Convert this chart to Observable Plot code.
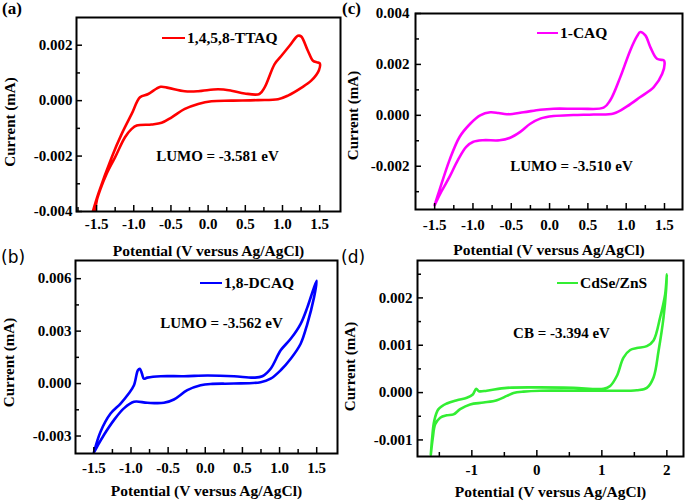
<!DOCTYPE html>
<html><head><meta charset="utf-8">
<script src="https://cdn.jsdelivr.net/npm/d3@7"></script>
<script src="https://cdn.jsdelivr.net/npm/@observablehq/plot@0.6"></script>
<style>
body{margin:0;background:#fff;}
#root{position:relative;width:685px;height:503px;overflow:hidden;font-family:"Liberation Serif","Times New Roman",serif;background:#fff;}
.panel{position:absolute;}
.lbl{position:absolute;font-size:17px;line-height:19px;white-space:nowrap;}
.leg{position:absolute;display:flex;align-items:center;font-weight:bold;font-size:15.5px;line-height:16px;height:16px;white-space:nowrap;}
.leg .sw{display:inline-block;height:2.6px;margin-right:2px;}
</style></head><body><div id="root"></div>
<script>
// ---------- data (potential in V, current in mA) ----------
const aV = [-1.55,-1.475,-1.296,-1.162,-1.028,-0.916,-0.805,-0.64,-0.536,-0.313,-0.134,0.134,0.313,0.49,0.69,0.76,0.894,0.98,1.095,1.207,1.25,1.341,1.41,1.466,1.5,
            1.49,1.386,1.252,1.073,0.94,0.67,0.31,0.045,-0.134,-0.313,-0.49,-0.626,-0.76,-0.96,-1.028,-1.118,-1.25,-1.363,-1.453,-1.497,-1.52];
const aI = [-0.004,-0.00335,-0.00204,-0.0012,-0.00048,0.00012,0.00024,0.0005,0.00046,0.00034,0.00034,0.00041,0.00036,0.00026,0.00024,0.00048,0.00132,0.0016,0.00198,0.00234,0.00232,0.0018,0.00144,0.00138,0.00135,
            0.0011,0.00072,0.00046,0.00018,0.00005,0.00002,0,-0.00002,-0.00012,-0.0003,-0.0006,-0.0008,-0.00086,-0.0009,-0.00102,-0.00132,-0.00204,-0.00263,-0.00323,-0.0036,-0.004];

const cV = [-1.5,-1.437,-1.306,-1.175,-1.036,-0.906,-0.775,-0.666,-0.557,-0.34,-0.122,0.052,0.4,0.705,0.792,0.923,1.053,1.14,1.184,1.25,1.315,1.402,1.489,1.5,
            1.47,1.36,1.184,1.01,0.836,0.575,0.31,0.052,-0.122,-0.252,-0.383,-0.514,-0.653,-0.87,-1.001,-1.088,-1.197,-1.306,-1.415,-1.48,-1.5];
const cI = [-0.00353,-0.00294,-0.00176,-0.00085,-0.00033,0,0.00012,0.00009,0.00004,0.00012,0.00022,0.00026,0.00026,0.0003,0.00059,0.0015,0.00255,0.0031,0.00327,0.00314,0.00268,0.00222,0.00216,0.0021,
            0.00163,0.00111,0.00072,0.00035,0.00007,0.00003,0.00001,-0.00003,-0.00013,-0.00033,-0.00065,-0.00088,-0.00098,-0.00098,-0.00105,-0.00124,-0.00176,-0.00242,-0.00301,-0.0034,-0.00353];

const bV = [-1.5,-1.41,-1.275,-1.14,-1.03,-0.96,-0.907,-0.88,-0.853,-0.826,-0.78,-0.6,-0.287,0.027,0.386,0.656,0.768,0.88,1.015,1.15,1.284,1.374,1.464,1.5,
            1.464,1.374,1.284,1.15,1.015,0.88,0.745,0.386,0.072,-0.063,-0.242,-0.422,-0.557,-0.78,-0.96,-1.096,-1.23,-1.365,-1.455,-1.5];
const bI = [-0.00395,-0.00275,-0.00171,-0.00114,-0.00057,-0.0001,0.00076,0.00085,0.00057,0.00028,0.00034,0.00042,0.00042,0.00046,0.00042,0.00034,0.00042,0.00085,0.0019,0.00256,0.00342,0.00436,0.0055,0.00588,
            0.00493,0.00342,0.00228,0.00142,0.00076,0.00028,0.00008,0,-0.00002,-0.0001,-0.00038,-0.00091,-0.0011,-0.0011,-0.00104,-0.00142,-0.00209,-0.00294,-0.0036,-0.00395];

const dV = [-1.631,-1.61,-1.579,-1.513,-1.385,-1.23,-1.077,-0.985,-0.933,-0.892,-0.77,-0.462,0.05,0.564,1.026,1.128,1.23,1.333,1.436,1.538,1.692,1.795,1.897,1.974,2.0,
            1.99,1.949,1.872,1.795,1.692,1.538,1.077,0.564,0.05,-0.205,-0.359,-0.462,-0.615,-0.82,-1.026,-1.18,-1.282,-1.385,-1.487,-1.564,-1.6,-1.631];
const dI = [-0.00131,-0.00095,-0.0006,-0.00035,-0.00023,-0.00016,-0.00011,-0.00004,0.00008,0.00003,0.00004,0.0001,0.00011,0.0001,0.00008,0.00014,0.00035,0.00074,0.0009,0.00094,0.00098,0.0011,0.00159,0.00208,0.0025,
            0.0022,0.00159,0.00088,0.00032,0.0001,0.00005,0.00004,0.00004,0.00004,0.00002,-0.00001,-0.00007,-0.00016,-0.00021,-0.00025,-0.00035,-0.00046,-0.00048,-0.00053,-0.00067,-0.00095,-0.00131];

// ---------- ticks ----------
const xTicks15 = [-1.5,-1,-0.5,0,0.5,1,1.5];
const xLabels15 = ["-1.5","-1.0","-0.5","0.0","0.5","1.0","1.5"];
const aXMinor = [-1.75,-1.25,-0.75,-0.25,0.25,0.75,1.25];
const cXMinor = [-1.25,-0.75,-0.25,0.25,0.75,1.25];
const bXMinor = [-1.25,-0.75,-0.25,0.25,0.75,1.25];
const dXTicks = [-1,0,1,2];
const dXLabels = ["-1","0","1","2"];
const dXMinor = [-1.5,-0.5,0.5,1.5];

const aYTicks = [-0.004,-0.002,0,0.002];
const aYLabels = ["-0.004","-0.002","0.000","0.002"];
const aYMinor = [-0.003,-0.001,0.001];
const cYTicks = [-0.002,0,0.002,0.004];
const cYLabels = ["-0.002","0.000","0.002","0.004"];
const cYMinor = [-0.003,-0.001,0.001,0.003];
const bYTicks = [-0.003,0,0.003,0.006];
const bYLabels = ["-0.003","0.000","0.003","0.006"];
const bYMinor = [-0.0015,0.0015,0.0045];
const dYTicks = [-0.001,0,0.001,0.002];
const dYLabels = ["-0.001","0.000","0.001","0.002"];
const dYMinor = [-0.0005,0.0005,0.0015,0.0025];

const names = ["1,4,5,8-TTAQ","1-CAQ","1,8-DCAQ","CdSe/ZnS"];
const notes = ["LUMO = -3.581 eV","LUMO = -3.510 eV","LUMO = -3.562 eV","CB = -3.394 eV"];
const xTitle = "Potential (V versus Ag/AgCl)";
const yTitle = "Current (mA)";

// ---------- layout ----------
const panels = [
  {V:aV,I:aI,color:"#ff0000",name:names[0],note:notes[0],tag:"(a)",
   xt:xTicks15,xl:xLabels15,xm:aXMinor,yt:aYTicks,yl:aYLabels,ym:aYMinor,
   xd:[-1.77,1.78],yd:[-0.004,0.003],
   left:0,top:0,w:342,h:252,ml:76,mr:2,mt:17,mb:41,xpad:7,ypad:4,
   nx:141,ny:139,tdy:39.5,ydx:-66,ydy:7.5,
   leg:{x:162,y:30,sw:23},tagPos:{x:2,y:-1,serif:true}},
  {V:cV,I:cI,color:"#ff00ff",name:names[1],note:notes[1],tag:"(c)",
   xt:xTicks15,xl:xLabels15,xm:cXMinor,yt:cYTicks,yl:cYLabels,ym:cYMinor,
   xd:[-1.75,1.735],yd:[-0.0037,0.004],
   left:340,top:0,w:345,h:252,ml:75,mr:3,mt:13,mb:43,xpad:10,ypad:6,
   nx:156,ny:153,tdy:41,ydx:-62,ydy:4,
   leg:{x:537,y:25,sw:21},tagPos:{x:342,y:-1,serif:true}},
  {V:bV,I:bI,color:"#0000ff",name:names[2],note:notes[2],tag:"(b)",
   xt:xTicks15,xl:xLabels15,xm:bXMinor,yt:bYTicks,yl:bYLabels,ym:bYMinor,
   xd:[-1.747,1.78],yd:[-0.004,0.00704],
   left:0,top:250,w:342,h:253,ml:75,mr:5,mt:10,mb:50,xpad:9,ypad:4,
   nx:146,ny:63,tdy:38,ydx:-66,ydy:5.5,
   leg:{x:200,y:275,sw:22},tagPos:{x:1,y:248,serif:false}},
  {V:dV,I:dI,color:"#33ee33",name:names[3],note:notes[3],tag:"(d)",
   xt:dXTicks,xl:dXLabels,xm:dXMinor,yt:dYTicks,yl:dYLabels,ym:dYMinor,
   xd:[-1.836,2.256],yd:[-0.00135,0.00279],
   left:340,top:250,w:345,h:253,ml:77,mr:2,mt:10,mb:47,xpad:8,ypad:5,
   nx:144,ny:73,tdy:36,ydx:-67,ydy:8,
   leg:{x:557,y:275,sw:21},tagPos:{x:341,y:248,serif:false}}
];

const root = document.getElementById("root");

function makePanel(p){
  const fw = p.w - p.ml - p.mr, fh = p.h - p.mt - p.mb;
  const tickStyle = {stroke:"#000", strokeWidth:1.5};
  return Plot.plot({
    width:p.w, height:p.h,
    marginLeft:p.ml, marginRight:p.mr, marginTop:p.mt, marginBottom:p.mb,
    x:{domain:p.xd}, y:{domain:p.yd},
    style:{fontFamily:'"Liberation Serif","Times New Roman",serif', fontSize:"15px", fontWeight:"bold", background:"none", overflow:"visible", color:"#000"},
    marks:[
      Plot.line(p.V, {x:p.V, y:p.I, stroke:p.color, strokeWidth:2.6, curve:"catmull-rom", clip:true}),
      Plot.tickX(p.xt, {x:d=>d, insetTop:fh-6, ...tickStyle}),
      Plot.tickX(p.xm, {x:d=>d, insetTop:fh-4, ...tickStyle}),
      Plot.tickY(p.yt, {y:d=>d, insetRight:fw-6, ...tickStyle}),
      Plot.tickY(p.ym, {y:d=>d, insetRight:fw-4, ...tickStyle}),
      Plot.axisX(p.xt, {tickSize:0, tickPadding:p.xpad, tickFormat:d=>p.xl[p.xt.indexOf(d)], label:null}),
      Plot.axisY(p.yt, {tickSize:0, tickPadding:p.ypad, tickFormat:d=>p.yl[p.yt.indexOf(d)], label:null}),
      Plot.frame({stroke:"#000", strokeWidth:2}),
      Plot.text([p.note], {text:d=>d, frameAnchor:"top-left", dx:p.nx, dy:p.ny, textAnchor:"middle", lineAnchor:"middle", fontSize:15, fontWeight:"bold"}),
      Plot.text([xTitle], {text:d=>d, frameAnchor:"bottom", dy:p.tdy, textAnchor:"middle", lineAnchor:"middle", fontSize:15.5, fontWeight:"bold"}),
      Plot.text([yTitle], {text:d=>d, frameAnchor:"left", dx:p.ydx, dy:p.ydy, rotate:-90, textAnchor:"middle", lineAnchor:"middle", fontSize:15, fontWeight:"bold"})
    ]
  });
}

for (const p of panels){
  const div = document.createElement("div");
  div.className = "panel";
  div.style.left = p.left+"px"; div.style.top = p.top+"px";
  div.style.width = p.w+"px"; div.style.height = p.h+"px";
  div.appendChild(makePanel(p));
  root.appendChild(div);
}
for (const p of panels){
  const leg = document.createElement("div");
  leg.className = "leg";
  leg.style.left = p.leg.x+"px"; leg.style.top = p.leg.y+"px";
  const sw = document.createElement("span");
  sw.className = "sw"; sw.style.width = p.leg.sw+"px"; sw.style.background = p.color;
  const tx = document.createElement("span"); tx.textContent = p.name;
  leg.appendChild(sw); leg.appendChild(tx);
  root.appendChild(leg);
  const tag = document.createElement("div");
  tag.className = "lbl";
  tag.textContent = p.tag;
  tag.style.left = p.tagPos.x+"px"; tag.style.top = p.tagPos.y+"px";
  if (p.tagPos.serif){ tag.style.fontWeight = "bold"; }
  else { tag.style.fontFamily = '"DejaVu Sans","Liberation Sans",sans-serif'; }
  root.appendChild(tag);
}
</script></body></html>
